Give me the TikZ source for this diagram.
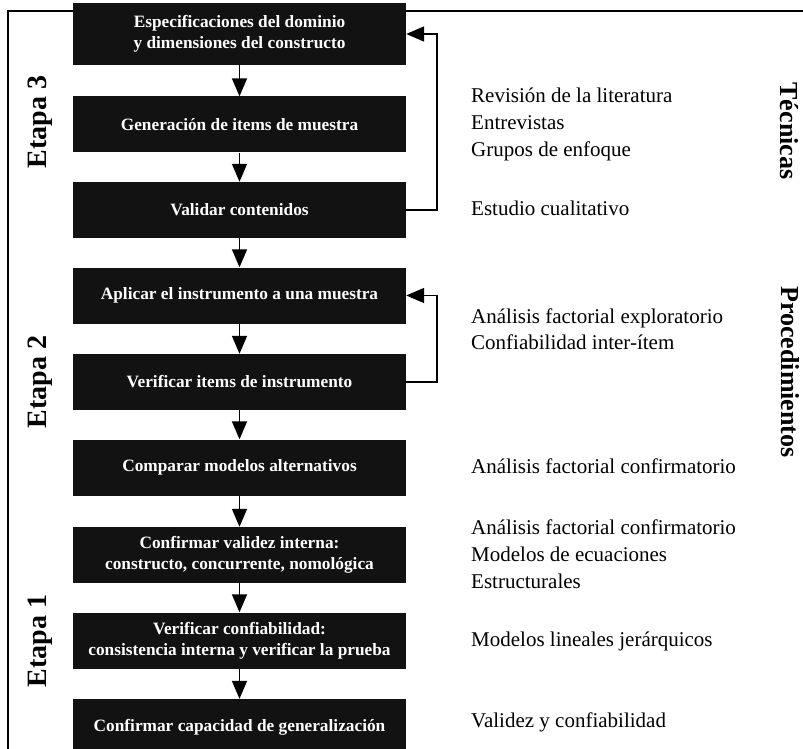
\documentclass[tikz,border=0pt]{standalone}
\usepackage{fontspec}
\setmainfont{Liberation Serif}
\usepackage{xcolor}
\usetikzlibrary{arrows.meta}
\tikzset{
  paso/.style   = {draw=none, fill=black!93, text=white, minimum width=333pt, minimum height=56pt, inner sep=0pt, align=center, font=\fontsize{17.3}{21}\selectfont\bfseries},
  tec/.style    = {font=\fontsize{21}{25}\selectfont, anchor=west, inner sep=0pt, text height=13pt, text depth=1pt},
  etapa/.style  = {font=\fontsize{28}{30}\selectfont\bfseries, rotate=90, inner sep=0pt},
  eje/.style    = {font=\fontsize{26}{28}\selectfont\bfseries, rotate=-90, inner sep=0pt},
  flecha/.style = {-{Triangle[length=18pt,width=15pt]}, line width=1.6pt},
  marco/.style  = {line width=2pt},
}

\begin{document}
\begin{tikzpicture}[x=1pt,y=-1pt]
  \clip (0,0) rectangle (803,749);
  \draw[marco] (803,11) -- (8,11) -- (8,749);

  % pasos
  \node[paso, minimum height=62pt] (espec) at (239.5,34) {Especificaciones del dominio\\y dimensiones del constructo};
  \node[paso] (generar) at (239.5,124.5) {Generación de items de muestra};
  \node[paso] (validar) at (239.5,210) {Validar contenidos};
  \node[paso] (aplicar) at (239.5,295.5) {Aplicar el instrumento a una muestra};
  \node[paso] (veritems) at (239.5,382) {Verificar items de instrumento};
  \node[paso] (comparar) at (239.5,467.5) {Comparar modelos alternativos};
  \node[paso] (validez) at (239.5,555) {Confirmar validez interna:\\constructo, concurrente, nomológica};
  \node[paso] (confiab) at (239.5,640.5) {Verificar confiabilidad:\\consistencia interna y verificar la prueba};
  \node[paso] (generaliz) at (239.5,727) {Confirmar capacidad de generalización};

  \foreach \a/\b in {espec/generar, generar/validar, validar/aplicar, aplicar/veritems,
                     veritems/comparar, comparar/validez, validez/confiab, confiab/generaliz}
    \draw[flecha] (\a) -- (\b);

  % retroalimentacion
  \draw[flecha] (validar.east) -- ++(31,0) |- (espec.east);
  \draw[flecha] (veritems.east) -- ++(31,0) |- (aplicar.east);

  % etapas
  \node[etapa] (etapa3) at (40,122) {Etapa 3};
  \node[etapa] (etapa2) at (40,382) {Etapa 2};
  \node[etapa] (etapa1) at (40,641) {Etapa 1};

  % tecnicas y procedimientos
  \foreach \txt/\y [count=\i] in {Revisión de la literatura/97, Entrevistas/124, Grupos de enfoque/151,
      Estudio cualitativo/209, Análisis factorial exploratorio/317, Confiabilidad inter-ítem/343,
      Análisis factorial confirmatorio/467, Análisis factorial confirmatorio/528,
      Modelos de ecuaciones/555, Estructurales/582, Modelos lineales jerárquicos/640,
      Validez y confiabilidad/721}
    \node[tec] (tec\i) at (471,\y) {\txt};

  \node[eje] (tecnicas) at (789,131) {Técnicas};
  \node[eje] (proced) at (790,372) {Procedimientos};
\end{tikzpicture}
\end{document}
